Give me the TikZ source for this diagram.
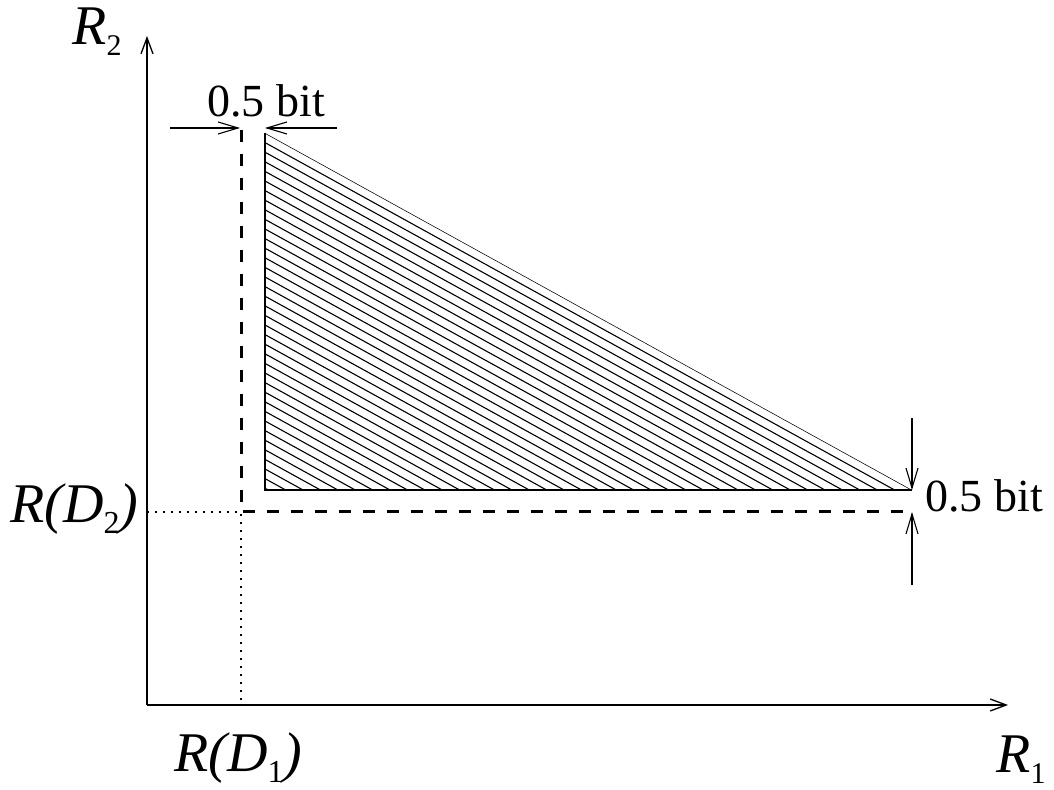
\documentclass[tikz,border=0pt]{standalone}
\usepackage{fontspec}
\setmainfont{Liberation Serif}
\usetikzlibrary{arrows.meta,positioning,calc}
\newcommand\lowsub[2][13]{\raisebox{-5.5pt}{\fontsize{#1}{#1}\selectfont\upshape #2}}
\tikzset{
  axis/.style={line width=0.65pt,-{Straight Barb[length=8pt,width=6pt]}},
  dimarrow/.style={line width=0.55pt,-{Straight Barb[length=10pt,width=6pt]}},
  bound/.style={line width=1.5pt,dash pattern=on 6pt off 6pt},
  guide/.style={line width=0.6pt,dash pattern=on 0.8pt off 3.2pt},
  edge/.style={line width=0.8pt},
  hatch/.style={line width=0.55pt},
  axlab/.style={font=\fontsize{28}{30}\selectfont\itshape,inner sep=0pt},
  dimlab/.style={font=\fontsize{23}{25}\selectfont,inner sep=0pt},
}
\begin{document}
\begin{tikzpicture}[x=0.5pt,y=-0.5pt]
  \useasboundingbox (0,0) rectangle (1054,790);
  % axes
  \coordinate (o) at (147,705);
  \coordinate (ytip) at (147,36);
  \coordinate (xtip) at (1008,705);
  \draw[axis](o)--(ytip);
  \draw[axis](o)--(xtip);
  % rate point R(D1),R(D2)
  \coordinate (rd) at (241,512);
  \coordinate (rdx) at (241,705);
  \coordinate (rdy) at (147,512);
  \coordinate (vtop) at (241,130);
  \coordinate (hend) at (912,512);
  \draw[guide](rdy)--(rd)--(rdx);
  \draw[bound](vtop)--(rd)--(hend);
  % achievable region
  \coordinate (ta) at (265,133);
  \coordinate (tb) at (265,490);
  \coordinate (tc) at (912,490);
  \begin{scope}
    \clip (ta)--(tb)--(tc)--cycle;
    \foreach \k in {0,...,37}
      \draw[hatch]($(ta)+(0,9.6*\k)$)--($(tc)+(0,9.6*\k)$);
  \end{scope}
  \draw[edge](ta)--(tb)--(tc);
  % 0.5 bit gaps
  \coordinate (la) at (170,128);
  \coordinate (lb) at (240,128);
  \coordinate (ra) at (337,128);
  \coordinate (rb) at (265,128);
  \draw[dimarrow](la)--(lb);
  \draw[dimarrow](ra)--(rb);
  \coordinate (ua) at (912,418);
  \coordinate (ub) at (912,490);
  \coordinate (da) at (912,585);
  \coordinate (db) at (912,512);
  \draw[dimarrow](ua)--(ub);
  \draw[dimarrow](da)--(db);
  \node[dimlab,anchor=base](gaptop) at (266,117){0.5 bit};
  \node[dimlab,anchor=base west](gapright) at (925,512){0.5 bit};
  % axis labels
  \node[axlab,anchor=base west](r2) at (72,45){R\lowsub[15]{2}};
  \node[axlab,anchor=base west](r1) at (996,772){R\lowsub[15]{1}};
  \node[axlab,anchor=base west](rd2) at (10,523){R(D\lowsub[16]{2})};
  \node[axlab,anchor=base west](rd1) at (174,771){R(D\lowsub[16]{1})};
\end{tikzpicture}
\end{document}
